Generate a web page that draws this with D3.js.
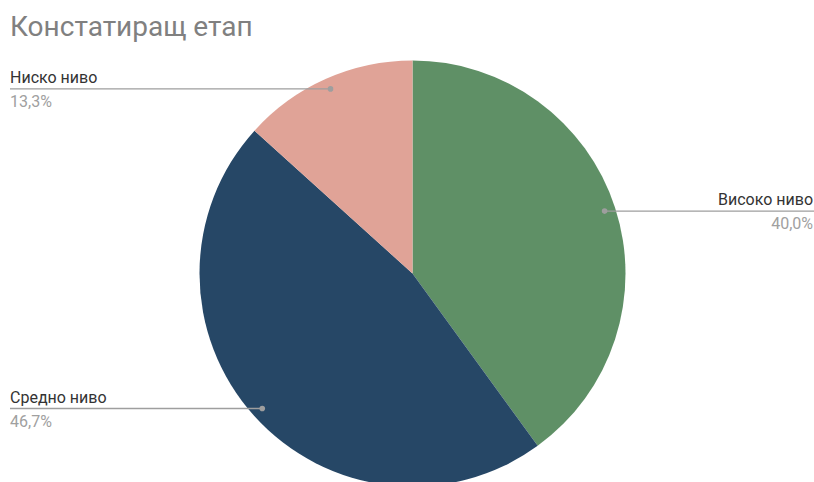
<!DOCTYPE html>
<html>
<head>
<meta charset="utf-8">
<script src="https://cdn.jsdelivr.net/npm/d3@7"></script>
<style>
  body { margin: 0; background: #fff; }
  text { font-family: Roboto, "Noto Sans", sans-serif; }
</style>
</head>
<body>
<div id="chart"></div>
<script>
const title = "Констатиращ етап";
const categories = ["Високо ниво", "Средно ниво", "Ниско ниво"];
const values = [40.0, 46.7, 13.3];
const colors = ["#5f9066", "#264766", "#e0a397"];

const width = 814, height = 482;
const cx = 412.5, cy = 273.5, radius = 213;

const svg = d3.select("#chart").append("svg")
    .attr("width", width)
    .attr("height", height);

svg.append("text")
    .attr("x", 10)
    .attr("y", 36)
    .attr("font-size", "28px")
    .attr("fill", "#808080")
    .text(title);

const data = categories.map((c, i) => ({ label: c, value: values[i], color: colors[i] }));

const pie = d3.pie().sort(null).value(d => d.value);
const arcs = pie(data);
const arc = d3.arc().innerRadius(0).outerRadius(radius);

const g = svg.append("g")
    .attr("transform", "translate(" + cx + "," + cy + ")");

g.selectAll("path")
    .data(arcs)
    .enter().append("path")
    .attr("d", arc)
    .attr("fill", d => d.data.color);

// labels: dot at mid-angle, horizontal leader to the side
const labelR = 202;
const fmt = v => v.toFixed(1).replace(".", ",") + "%";

arcs.forEach(a => {
    const mid = (a.startAngle + a.endAngle) / 2;
    const px = cx + labelR * Math.sin(mid);
    const py = cy - labelR * Math.cos(mid);
    const right = Math.sin(mid) > 0;
    const tx = right ? width - 1 : 10;
    const lg = svg.append("g");
    lg.append("line")
        .attr("x1", px).attr("y1", py)
        .attr("x2", right ? width : 10).attr("y2", py)
        .attr("stroke", "#9e9e9e")
        .attr("stroke-width", 1.3);
    lg.append("circle")
        .attr("cx", px).attr("cy", py)
        .attr("r", 2.8)
        .attr("fill", "#9e9e9e");
    lg.append("text")
        .attr("x", tx).attr("y", py - 6)
        .attr("text-anchor", right ? "end" : "start")
        .attr("font-size", "16px")
        .attr("fill", "#333333")
        .text(a.data.label);
    lg.append("text")
        .attr("x", tx).attr("y", py + 18)
        .attr("text-anchor", right ? "end" : "start")
        .attr("font-size", "16px")
        .attr("fill", "#a0a0a0")
        .text(fmt(a.data.value));
});
</script>
</body>
</html>
